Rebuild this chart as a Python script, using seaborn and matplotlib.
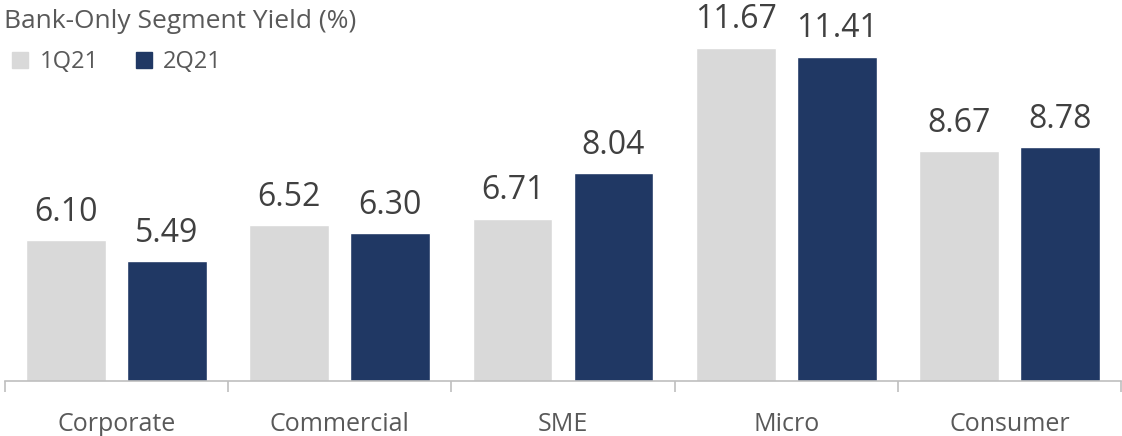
import matplotlib
matplotlib.use("Agg")
import matplotlib.pyplot as plt
from matplotlib.lines import Line2D
import seaborn as sns
import pandas as pd

segments = ["Corporate", "Commercial", "SME", "Micro", "Consumer"]
periods = ["1Q21", "2Q21"]
yield_1q21 = [6.10, 6.52, 6.71, 11.67, 8.67]
yield_2q21 = [5.49, 6.30, 8.04, 11.41, 8.78]
colors = ["#D9D9D9", "#203864"]

df = pd.DataFrame({
    "segment": segments * 2,
    "period": [periods[0]] * 5 + [periods[1]] * 5,
    "yield": yield_1q21 + yield_2q21,
})

sns.set_style("white")
plt.rcParams["font.family"] = ["Open Sans", "DejaVu Sans"]

fig = plt.figure(figsize=(11.22, 4.36), dpi=100)
ax = fig.add_axes([5 / 1122, 55 / 436, 1116 / 1122, 381 / 436])

sns.barplot(data=df, x="segment", y="yield", hue="period", order=segments,
            hue_order=periods, palette=colors, width=0.905, gap=0.21,
            saturation=1, legend=False, ax=ax)

for cont in ax.containers:
    ax.bar_label(cont, fmt="%.2f", padding=8, fontsize=23, color="#404040")

ax.set_ylim(2, 13.05)
ax.set_xlim(-0.5, 4.5)
ax.set_xlabel("")
ax.set_ylabel("")
ax.set_yticks([])
for side in ["top", "right", "left"]:
    ax.spines[side].set_visible(False)
ax.spines["bottom"].set_color("#BFBFBF")
ax.spines["bottom"].set_linewidth(1.2)

ax.set_xticks(range(len(segments)))
ax.set_xticklabels(segments, fontsize=18, color="#595959")
ax.tick_params(axis="x", which="major", bottom=True, length=0, pad=22)
ax.set_xticks([i - 0.5 for i in range(len(segments) + 1)], minor=True)
ax.tick_params(axis="x", which="minor", bottom=True, length=8, width=1.2,
               color="#BFBFBF", direction="out")

fig.text(4 / 1122, 1 - 22 / 436, "Bank-Only Segment Yield (%)", fontsize=19,
         color="#595959", va="center", ha="left")

handles = [Line2D([], [], marker="s", linestyle="", markersize=12, color=c) for c in colors]
fig.legend(handles, periods, loc="center left", bbox_to_anchor=(11 / 1122, 1 - 62 / 436),
           ncol=2, frameon=False, fontsize=17, labelcolor="#595959",
           handlelength=0.8, handletextpad=0.42, columnspacing=1.5,
           borderaxespad=0, borderpad=0)

fig.savefig("out.png", dpi=100)
